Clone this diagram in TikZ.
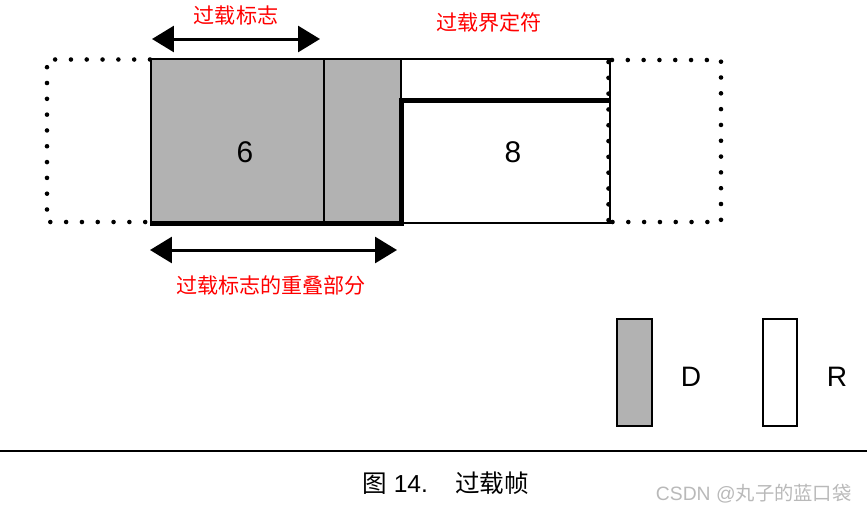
\documentclass[tikz,border=0pt]{standalone}
\usepackage{fontspec}
\setmainfont{Liberation Sans}
\newfontfamily\cjk{Noto Sans CJK SC}
\usetikzlibrary{arrows.meta}
\definecolor{fieldgray}{RGB}{178,178,178}
\definecolor{markred}{RGB}{255,0,0}
\definecolor{wmgray}{RGB}{185,185,185}

\begin{document}
\begin{tikzpicture}[x=0.02cm,y=-0.02cm,
    >={Triangle[length=4.4mm,width=5.2mm]},
    field/.style={draw=black,line width=1.1pt},
    heavyedge/.style={line width=3.4pt,line join=miter},
    dotedge/.style={line width=2.6pt,line cap=round,dash pattern=on 0pt off 9pt},
    dimarrow/.style={<->,line width=1.7pt},
    redlabel/.style={inner sep=0pt,text=markred,font=\cjk\fontsize{12}{14}\selectfont},
    numlabel/.style={inner sep=0pt,font=\fontsize{17}{20}\selectfont}]
  \useasboundingbox (0,0) rectangle (867,512);

  % ---- neighbouring fields, dotted ---------------------------------------
  \draw[dotedge] (150,59.5) -- (47,59.5) -- (47,222) -- (150,222);
  \draw[dotedge] (612,60) -- (721,60) -- (721,222) -- (612,222);
  \draw[dotedge] (608.5,62) -- (608.5,222);

  % ---- overload flag (D) and delimiter (R) -------------------------------
  \filldraw[field,fill=fieldgray] (151,59) rectangle (401,223);
  \draw[field] (324,59) -- (324,223);
  \draw[field] (401,59) rectangle (610,223);
  % recessive level after the superposed flags
  \draw[heavyedge] (150,223.5) -- (401.5,223.5) -- (401.5,100.5) -- (610,100.5);

  \node[numlabel] (six) at (245,152) {6};
  \node[numlabel] (eight) at (513,152) {8};

  % ---- dimension arrows and labels ---------------------------------------
  \coordinate (flagL) at (152,39);  \coordinate (flagR) at (320,39);
  \draw[dimarrow] (flagL) -- (flagR);
  \node[redlabel] (flaglbl) at (236,15) {过载标志};
  \node[redlabel] (delimlbl) at (489,22) {过载界定符};

  \coordinate (ovlL) at (150,250);  \coordinate (ovlR) at (397,250);
  \draw[dimarrow] (ovlL) -- (ovlR);
  \node[redlabel] (ovllbl) at (271,285) {过载标志的重叠部分};

  % ---- legend ------------------------------------------------------------
  \filldraw[field,fill=fieldgray] (617,319) rectangle (652,426);
  \node[numlabel,font=\fontsize{16}{19}\selectfont] (dkey) at (691,377) {D};
  \draw[field] (763,319) rectangle (797,426);
  \node[numlabel,font=\fontsize{16}{19}\selectfont] (rkey) at (837,377) {R};

  % ---- caption -----------------------------------------------------------
  \draw[line width=1.2pt] (0,451) -- (867,451);
  \node[inner sep=0pt,anchor=west,font=\fontsize{14}{17}\selectfont] (caption)
        at (362,483) {{\cjk 图} 14.\hspace{1.1em}{\cjk 过载帧}};
  \node[inner sep=0pt,anchor=east,text=wmgray,font=\fontsize{11}{13}\selectfont] (wmark)
        at (852,494) {CSDN @{\cjk 丸子的蓝口袋}};
\end{tikzpicture}
\end{document}
